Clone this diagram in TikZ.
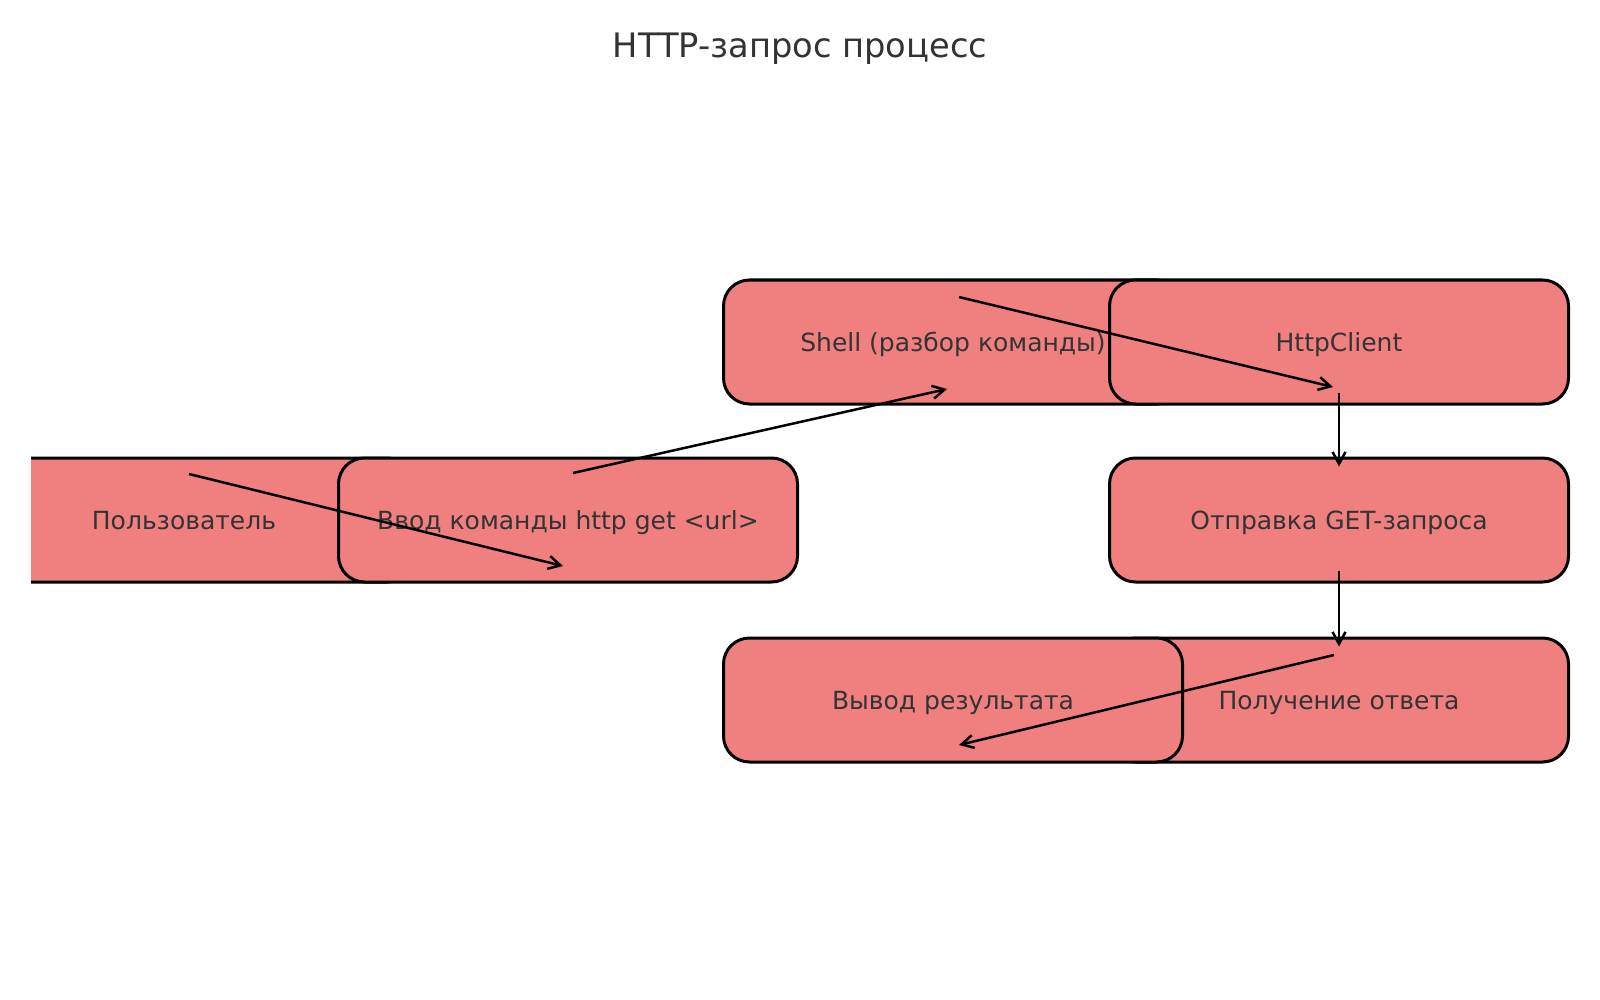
\documentclass[tikz,border=0pt]{standalone}
\usepackage{fontspec}
\setmainfont{DejaVu Sans}
\usetikzlibrary{arrows.meta}
\definecolor{boxfill}{HTML}{F08080}
\definecolor{labelgray}{HTML}{333333}

\begin{document}
\begin{tikzpicture}
            [
                x=1pt, y=-1pt,
                procbox/.style={draw=black, line width=3pt, fill=boxfill,
                    rounded corners=26pt, minimum width=459pt, minimum height=124pt,
                    text height=23pt, text depth=5pt,
                    text=labelgray, font=\fontsize{25}{30}\selectfont},
                flow/.style={->, line width=2.5pt},
                >={Straight Barb[length=12pt, width=13pt]}
            ]
            \useasboundingbox (0,0) rectangle (1600,1000);
            \node[text=labelgray, font=\fontsize{33.7}{40}\selectfont] (title) at (800,49) {HTTP-запрос процесс};
            \begin{scope}
                \clip (31,0) rectangle (1600,1000);
                \node[procbox] (user) at (184,520) {Пользователь};
                \node[procbox] (cmd) at (568,520) {Ввод команды http get <url>};
                \node[procbox] (shell) at (953,342) {Shell (разбор команды)};
                \node[procbox] (client) at (1339,342) {HttpClient};
                \node[procbox] (getreq) at (1339,520) {Отправка GET-запроса};
                \node[procbox] (resp) at (1339,700) {Получение ответа};
                \node[procbox] (output) at (953,700) {Вывод результата};

                \draw[flow] ([xshift=5pt, yshift=-17.5pt]user.north) -- ([xshift=-5pt, yshift=17.5pt]cmd.south);
                \draw[flow] ([xshift=5pt, yshift=-16.5pt]cmd.north) -- ([xshift=-6pt, yshift=16.5pt]shell.south);
                \draw[flow] ([xshift=6pt, yshift=-18.5pt]shell.north) -- ([xshift=-6pt, yshift=18.5pt]client.south);
                \draw[flow] ([yshift=13pt]client.south) -- ([yshift=-10pt]getreq.north);
                \draw[flow] ([yshift=13pt]getreq.south) -- ([yshift=-10pt]resp.north);
                \draw[flow] ([xshift=-5pt, yshift=-18.5pt]resp.north) -- ([xshift=6pt, yshift=18.5pt]output.south);
            \end{scope}
        \end{tikzpicture}
\end{document}
